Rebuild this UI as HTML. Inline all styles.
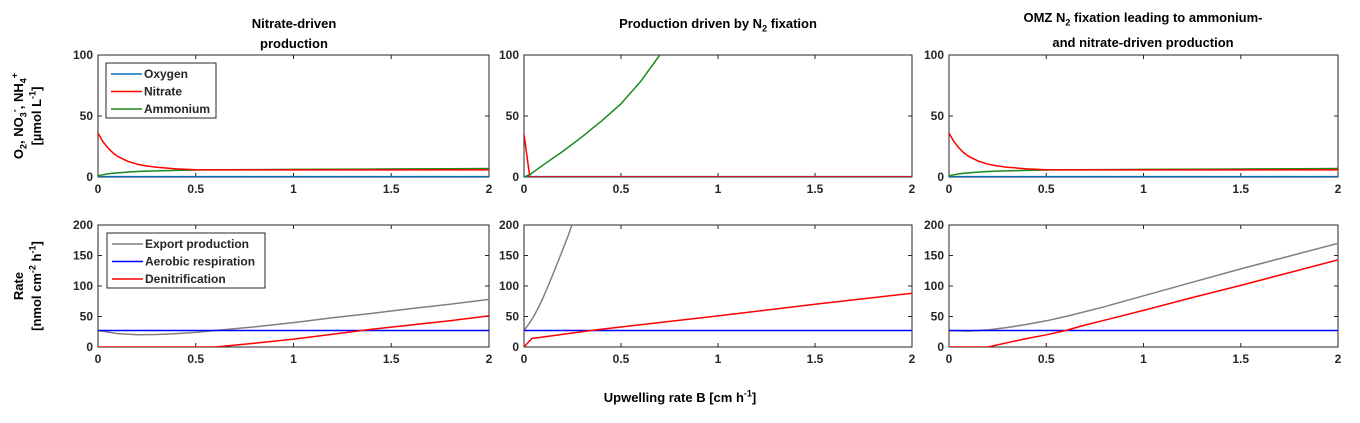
<!DOCTYPE html>
<html><head><meta charset="utf-8"><style>
body{margin:0;background:#fff;}
svg{display:block;font-family:"Liberation Sans",sans-serif;font-weight:bold;}
sub,sup{line-height:0;font-size:9px;}
</style></head><body>
<svg id="fig" width="1360" height="423" viewBox="0 0 1360 423"></svg>
<script>
const xTicks=[0,0.5,1,1.5,2];
const topTicks=[0,50,100];
const botTicks=[0,50,100,150,200];
// Panel 1 (nitrate-driven)
const p1x=[0,0.025,0.05,0.075,0.1,0.15,0.2,0.25,0.3,0.4,0.5,0.6,0.8,1,1.2,1.4,1.6,1.8,2];
const p1Oxy=[0.3,0.3,0.3,0.3,0.3,0.3,0.3,0.3,0.3,0.3,0.3,0.3,0.3,0.3,0.3,0.3,0.3,0.3,0.3];
const p1Nit=[36,29,24,20,17,13,10.5,9,8,6.6,6,5.8,5.8,5.8,5.8,5.8,5.8,5.8,5.8];
const p1Amm=[1,1.8,2.5,3,3.4,4,4.5,4.8,5,5.4,5.7,5.9,6.1,6.2,6.4,6.5,6.6,6.8,7];
// Panel 2 (N2 fixation)
const p2xN=[0,0.03,0.5,1,1.5,2];
const p2Nit=[35,0,0,0,0,0];
const p2Oxy=[0.3,0.3,0.3,0.3,0.3,0.3];
const p2xA=[0,0.03,0.1,0.2,0.3,0.4,0.5,0.6,0.7];
const p2Amm=[0,2,10,21,33,46,60,78,100];
// Panel 3 (OMZ)
const p3Nit=[36,29,24,20,17,13,10.5,9,8,6.6,6,5.8,5.8,5.8,5.8,5.8,5.8,5.8,5.8];
const p3Amm=[1,1.8,2.5,3,3.4,4,4.5,4.8,5,5.4,5.7,5.9,6.1,6.2,6.4,6.5,6.6,6.8,7];
// Rates
const r1x=[0,0.1,0.2,0.3,0.4,0.5,0.6,0.8,1,1.2,1.4,1.6,1.8,2];
const r1Exp=[27,22,20,20.5,22,24,27,33,40,48,55,63,70,78];
const r1Den=[0,0,0,0,0,0,0,6,13,21,29,36,43,51];
const r1Aer=[27,27,27,27,27,27,27,27,27,27,27,27,27,27];
const r2xE=[0,0.025,0.05,0.075,0.1,0.124,0.15,0.175,0.2,0.225,0.247];
const r2Exp=[27,38,50,65,82,100,120,140,160,180,200];
const r2xD=[0,0.04,0.37,1,1.5,2];
const r2Den=[0,14,28,51,70,88];
const r2xA=[0,2];
const r2Aer=[27,27];
const r3x=[0,0.1,0.2,0.3,0.4,0.5,0.6,0.7,0.8,1,1.25,1.5,1.75,2];
const r3Exp=[27,26,28,32,37,43,50,58,66,84,106,128,149,170];
const r3Den=[0,0,0,7,14,20,27,36,44,60,81,101,122,143];
const r3Aer=[27,27,27,27,27,27,27,27,27,27,27,27,27,27];

const svg=document.getElementById('fig');
const NS='http://www.w3.org/2000/svg';
function mk(tag,attrs,parent){const e=document.createElementNS(NS,tag);for(const k in attrs)e.setAttribute(k,attrs[k]);(parent||svg).appendChild(e);return e;}
function txt(s,x,y,size,anchor,parent){const t=mk('text',{x:x,y:y,'font-size':size,'text-anchor':anchor||'middle',fill:'#262626'},parent);t.innerHTML=s;return t;}

const cols=[[98,489],[524,912],[949,1338]];
const rows=[{t:55,b:177,max:100,ticks:topTicks},{t:225,b:347,max:200,ticks:botTicks}];

function axes(ci,ri,name){
  const [x0,x1]=cols[ci];const r=rows[ri];
  const g=mk('g',{});
  
  
  const sx=v=>x0+v/2*(x1-x0), sy=v=>r.b-v/r.max*(r.b-r.t);
  mk('rect',{x:x0,y:r.t,width:x1-x0,height:r.b-r.t,fill:'#fff',stroke:'#262626','stroke-width':1},g);
  xTicks.forEach(v=>{const X=sx(v);
    mk('line',{x1:X,x2:X,y1:r.b,y2:r.b-4,stroke:'#262626'},g);
    mk('line',{x1:X,x2:X,y1:r.t,y2:r.t+4,stroke:'#262626'},g);
    const t=txt(String(v),X,r.b+16,12,'middle',g);
    
    
  });
  r.ticks.forEach(v=>{const Y=sy(v);
    mk('line',{x1:x0,x2:x0+4,y1:Y,y2:Y,stroke:'#262626'},g);
    mk('line',{x1:x1,x2:x1-4,y1:Y,y2:Y,stroke:'#262626'},g);
    const t=txt(String(v),x0-5,Y+4,12,'end',g);
    
    
  });
  const clip='c'+ci+ri;
  const cp=mk('clipPath',{id:clip},g);mk('rect',{x:x0,y:r.t,width:x1-x0,height:r.b-r.t},cp);
  return {g,sx,sy,clip};
}
function line(ax,xs,ys,color,name){
  const d=xs.map((x,i)=>(i?'L':'M')+ax.sx(x).toFixed(1)+','+ax.sy(ys[i]).toFixed(1)).join('');
  const p=mk('path',{d:d,fill:'none',stroke:color,'stroke-width':1.5,'stroke-linejoin':'round','clip-path':'url(#'+ax.clip+')'},ax.g);
  
  
}
const OX='#0072bd',NI='#ff0000',AM='#1a8a1a',EX='#808080',AE='#0000ff';
let a=axes(0,0,'panel1-concentrations');
line(a,p1x,p1Oxy,OX,'oxygen-line');line(a,p1x,p1Amm,AM,'ammonium-line');line(a,p1x,p1Nit,NI,'nitrate-line');
a=axes(1,0,'panel2-concentrations');
line(a,p2xN,p2Oxy,OX,'oxygen-line');line(a,p2xN,p2Nit,NI,'nitrate-line');line(a,p2xA,p2Amm,AM,'ammonium-line');
a=axes(2,0,'panel3-concentrations');
line(a,p1x,p1Oxy,OX,'oxygen-line');line(a,p1x,p3Amm,AM,'ammonium-line');line(a,p1x,p3Nit,NI,'nitrate-line');
a=axes(0,1,'panel1-rates');
line(a,r1x,r1Exp,EX,'export-line');line(a,r1x,r1Aer,AE,'aerobic-line');line(a,r1x,r1Den,NI,'denitrification-line');
a=axes(1,1,'panel2-rates');
line(a,r2xE,r2Exp,EX,'export-line');line(a,r2xA,r2Aer,AE,'aerobic-line');line(a,r2xD,r2Den,NI,'denitrification-line');
a=axes(2,1,'panel3-rates');
line(a,r3x,r3Exp,EX,'export-line');line(a,r3x,r3Aer,AE,'aerobic-line');line(a,r3x,r3Den,NI,'denitrification-line');

function legend(x,y,w,items,name){
  const g=mk('g',{});
  
  
  mk('rect',{x:x,y:y,width:w,height:55,fill:'#fff',stroke:'#262626'},g);
  items.forEach((it,i)=>{const Y=y+11+i*17.5;
    mk('line',{x1:x+5,x2:x+36,y1:Y,y2:Y,stroke:it[1],'stroke-width':1.5},g);
    txt(it[0],x+38,Y+4,12,'start',g);});
}
legend(106,63,110,[['Oxygen',OX],['Nitrate',NI],['Ammonium',AM]],'legend-concentrations');
legend(107,233,158,[['Export production',EX],['Aerobic respiration',AE],['Denitrification',NI]],'legend-rates');
</script>
<div style="position:absolute;left:0;top:0;width:1360px;height:423px;pointer-events:none;font-family:'Liberation Sans',sans-serif;font-weight:bold;color:#000;font-size:13px;">
<div style="position:absolute;left:194px;top:14px;width:200px;text-align:center;line-height:20px;">Nitrate-driven<br>production</div>
<div style="position:absolute;left:518px;top:14px;width:400px;text-align:center;line-height:20px;">Production driven by N<sub>2</sub> fixation</div>
<div style="position:absolute;left:943px;top:5px;width:400px;text-align:center;line-height:25px;">OMZ N<sub>2</sub> fixation leading to ammonium-<br>and nitrate-driven production</div>
<div style="position:absolute;left:-42px;top:98px;width:140px;text-align:center;transform:rotate(-90deg);line-height:18px;">O<sub>2</sub>, NO<sub>3</sub><sup>-</sup>, NH<sub>4</sub><sup>+</sup><br>[µmol L<sup>-1</sup>]</div>
<div style="position:absolute;left:-42px;top:268px;width:140px;text-align:center;transform:rotate(-90deg);line-height:18px;">Rate<br>[nmol cm<sup>-2</sup> h<sup>-1</sup>]</div>
<div style="position:absolute;left:560px;top:390px;width:240px;text-align:center;">Upwelling rate B [cm h<sup>-1</sup>]</div>
</div>
</body></html>
